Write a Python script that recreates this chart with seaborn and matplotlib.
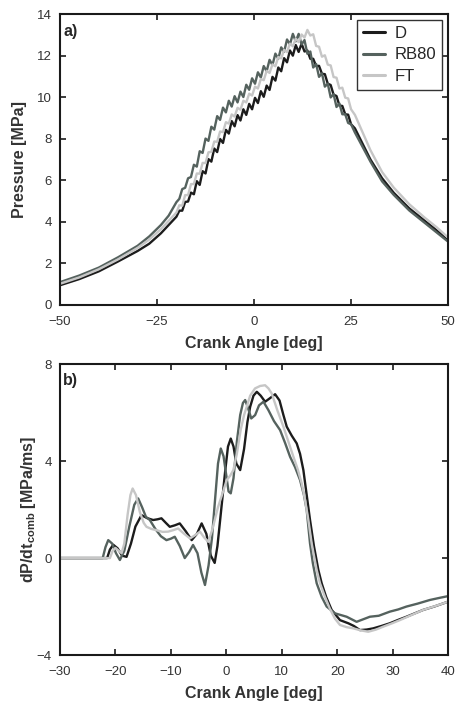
import numpy as np
import pandas as pd
import matplotlib
matplotlib.use('Agg')
import matplotlib.pyplot as plt
import seaborn as sns

# ---- panel a) cylinder pressure vs crank angle ----
angle_p = [-50, -45, -40, -35, -30, -27, -24, -22,
           -20, -19.25, -18.5, -17.75, -17, -16.25, -15.5, -14.75, -14, -13.25, -12.5, -11.75, -11, -10.25,
           -9.5, -8.75, -8, -7.25, -6.5, -5.75, -5, -4.25, -3.5, -2.75, -2, -1.25, -0.5, 0.25, 1, 1.75,
           2.5, 3.25, 4, 4.75, 5.5, 6.25, 7, 7.75, 8.5, 9.25, 10, 10.75, 11.5, 12.25, 13, 13.75, 14.5, 15.25,
           16, 16.75, 17.5, 18.25, 19, 19.75, 20.5, 21.25, 22, 22.75, 23.5, 24.25, 25,
           26, 28, 30, 33, 36, 40, 44, 47, 50]

p_D = [0.95, 1.25, 1.62, 2.1, 2.6, 2.95, 3.45, 3.85,
       4.25, 4.54, 4.54, 4.96, 4.98, 5.41, 5.33, 5.96, 5.78, 6.44, 6.33, 7.02, 6.9, 7.53,
       7.36, 7.99, 7.8, 8.43, 8.25, 8.85, 8.6, 9.14, 8.88, 9.42, 9.15, 9.68, 9.42, 9.97, 9.72, 10.29,
       10.02, 10.56, 10.35, 10.98, 10.8, 11.43, 11.25, 11.88, 11.68, 12.25, 12.0, 12.51, 12.18, 12.58, 12.2, 12.25, 11.85, 11.85,
       11.5, 11.51, 11.13, 11.11, 10.65, 10.59, 10.12, 10.06, 9.6, 9.58, 9.18, 9.16, 8.7,
       8.5, 7.75, 7.0, 6.1, 5.4, 4.65, 4.05, 3.6, 3.1]

p_RB80 = [1.1, 1.42, 1.8, 2.3, 2.85, 3.3, 3.85, 4.3,
          4.95, 5.11, 5.58, 5.64, 6.1, 6.16, 6.75, 6.66, 7.4, 7.32, 8.01, 7.9, 8.58, 8.44,
          9.09, 8.91, 9.5, 9.27, 9.83, 9.55, 10.05, 9.75, 10.27, 10.01, 10.6, 10.36, 10.91, 10.65, 11.2, 10.95,
          11.5, 11.25, 11.8, 11.55, 12.1, 11.85, 12.4, 12.19, 12.78, 12.54, 13.05, 12.69, 13.05, 12.54, 12.75, 12.09, 12.2, 11.43,
          11.6, 10.98, 11.15, 10.51, 10.65, 9.99, 10.15, 9.53, 9.7, 9.18, 9.18, 8.76, 8.7,
          8.3, 7.6, 6.9, 5.95, 5.3, 4.55, 3.95, 3.5, 3.05]

p_FT = [1.02, 1.33, 1.72, 2.2, 2.75, 3.15, 3.65, 4.05,
        4.45, 4.8, 4.78, 5.29, 5.29, 5.82, 5.82, 6.33, 6.32, 6.84, 6.83, 7.35, 7.37, 7.87,
        7.85, 8.35, 8.32, 8.8, 8.73, 9.17, 9.07, 9.49, 9.4, 9.83, 9.75, 10.17, 10.08, 10.51, 10.42, 10.88,
        10.82, 11.27, 11.17, 11.58, 11.49, 11.94, 11.87, 12.28, 12.17, 12.58, 12.45, 12.82, 12.65, 13.02, 12.87, 13.24, 12.97, 13.03,
        12.47, 12.43, 11.95, 12.02, 11.57, 11.53, 10.97, 10.94, 10.42, 10.46, 9.98, 9.94, 9.42,
        9.15, 8.3, 7.45, 6.4, 5.65, 4.85, 4.2, 3.75, 3.25]

# ---- panel b) dP/dt_comb vs crank angle ----
angle_D = [-30, -21.5, -21.0, -20.4, -19.6, -18.8, -18.0, -17.2, -16.4, -15.3, -14.3, -13.2, -12.4, -11.7, -10.9,
           -10.2, -9.3, -8.4, -7.3, -6.25, -5.3, -4.45, -3.6, -2.8, -2.1, -1.6, -1.1, -0.2, 0.3, 0.8, 1.3, 1.8,
           2.5, 3.2, 3.8, 4.3, 4.9, 5.5, 6.2, 7.0, 7.9, 8.8, 9.6, 10.3, 10.9, 11.8, 12.7, 13.3, 13.9, 14.5, 15.1,
           15.8, 16.6, 17.2, 18.0, 19.0, 20.5, 22.0, 23.0, 24.1, 25.3, 26.5, 28.0, 29.5, 31.0, 32.5, 34.0, 35.5,
           37.5, 40]
dp_D = [0, 0, 0.35, 0.55, 0.4, 0.1, 0.05, 0.6, 1.3, 1.77, 1.65, 1.57, 1.6, 1.64, 1.45,
        1.29, 1.35, 1.43, 1.1, 0.74, 1.0, 1.43, 1.0, 0.1, -0.2, 0.5, 1.6, 3.6, 4.6, 4.93, 4.6, 3.9,
        3.63, 4.5, 5.6, 6.24, 6.7, 6.86, 6.7, 6.45, 6.6, 6.76, 6.5, 5.9, 5.42, 5.05, 4.73, 4.3, 3.63, 2.6, 1.57,
        0.5, -0.49, -1.04, -1.6, -2.14, -2.56, -2.69, -2.8, -2.97, -2.95, -2.9, -2.8, -2.69, -2.55, -2.42, -2.28, -2.14,
        -2.0, -1.8]

angle_RB80 = [-30, -22.3, -21.8, -21.3, -20.6, -19.9, -19.2, -18.4, -17.5, -16.6, -15.9, -15.2, -14.5, -13.8, -12.8,
              -11.8, -10.8, -10.0, -9.3, -8.4, -7.5, -6.7, -6.0, -5.2, -4.5, -3.85, -3.2, -2.6, -2.0, -1.5, -1.0,
              -0.5, 0.0, 0.4, 0.8, 1.3, 1.9, 2.5, 3.0, 3.4, 3.9, 4.5, 5.2, 5.9, 6.7, 7.6, 8.6, 9.7, 10.6, 11.5, 12.4,
              13.3, 14.0, 14.5, 15.1, 15.6, 16.3, 17.2, 18.1, 19.6, 21.7, 23.5, 25.9, 27.5, 29.5, 31.0, 32.5, 34.5,
              36.7, 38.5, 40]
dp_RB80 = [0, 0, 0.45, 0.74, 0.6, 0.2, -0.08, 0.3, 1.3, 2.2, 2.46, 2.1, 1.7, 1.57, 1.2,
           0.9, 0.74, 0.8, 0.88, 0.5, 0.0, 0.25, 0.54, 0.2, -0.6, -1.11, -0.3, 0.8, 2.5, 3.9, 4.52,
           4.2, 3.4, 2.75, 2.67, 3.3, 4.8, 5.9, 6.4, 6.52, 6.2, 5.76, 5.9, 6.3, 6.45, 6.1, 5.65, 5.28, 4.75, 4.18, 3.75,
           3.22, 2.6, 1.98, 0.6, -0.2, -1.04, -1.6, -2.0, -2.28, -2.42, -2.63, -2.42, -2.38, -2.21, -2.12, -2.0, -1.88,
           -1.73, -1.64, -1.57]

angle_FT = [-30, -21.0, -20.5, -20.0, -19.4, -18.9, -18.4, -17.8, -17.3, -16.9, -16.3, -15.6, -14.9, -14.4, -13.5,
            -12.6, -11.5, -10.5, -9.6, -8.7, -7.6, -6.55, -5.6, -4.75, -4.0, -3.25, -2.5, -1.5, -0.5, 0.07, 0.7,
            1.27, 1.9, 2.6, 3.2, 3.68, 4.3, 5.18, 6.1, 6.99, 7.6, 8.19, 9.2, 10.3, 11.2, 12.1, 12.9, 13.6, 14.2,
            14.8, 15.4, 16.3, 16.9, 17.8, 18.7, 19.6, 20.5, 21.7, 22.9, 24.2, 25.6, 27.0, 28.3, 29.8, 31.3, 33.4,
            35.5, 37.7, 40]
dp_FT = [0, 0, 0.3, 0.42, 0.3, 0.2, 0.6, 1.8, 2.6, 2.87, 2.6, 1.9, 1.45, 1.29, 1.2,
         1.15, 1.08, 1.09, 1.15, 1.22, 1.0, 0.81, 0.95, 1.09, 0.85, 0.67, 1.2, 2.1, 2.8, 3.22, 3.4,
         3.63, 4.3, 5.3, 5.9, 6.24, 6.7, 7.0, 7.1, 7.13, 7.0, 6.79, 6.1, 5.42, 4.8, 4.18, 3.65, 3.08, 2.4,
         1.57, 0.6, -0.49, -1.04, -1.6, -2.1, -2.5, -2.76, -2.85, -2.9, -2.98, -3.04, -2.95, -2.83, -2.7, -2.56, -2.35,
         -2.14, -1.98, -1.8]

fuels = ['D', 'RB80', 'FT']
colors = {'D': '#1c1c1c', 'RB80': '#55625e', 'FT': '#c6c6c6'}

df_p = pd.concat([
    pd.DataFrame({'angle': angle_p, 'value': p_D, 'fuel': 'D'}),
    pd.DataFrame({'angle': angle_p, 'value': p_RB80, 'fuel': 'RB80'}),
    pd.DataFrame({'angle': angle_p, 'value': p_FT, 'fuel': 'FT'}),
], ignore_index=True)

df_dp = pd.concat([
    pd.DataFrame({'angle': angle_D, 'value': dp_D, 'fuel': 'D'}),
    pd.DataFrame({'angle': angle_RB80, 'value': dp_RB80, 'fuel': 'RB80'}),
    pd.DataFrame({'angle': angle_FT, 'value': dp_FT, 'fuel': 'FT'}),
], ignore_index=True)

sns.set_style('ticks')
plt.rcParams['font.family'] = ['Liberation Sans', 'DejaVu Sans']
plt.rcParams['mathtext.fontset'] = 'custom'
plt.rcParams['mathtext.rm'] = 'Liberation Sans'
plt.rcParams['mathtext.bf'] = 'Liberation Sans:bold'
plt.rcParams['xtick.direction'] = 'in'
plt.rcParams['ytick.direction'] = 'in'
plt.rcParams['xtick.top'] = True
plt.rcParams['ytick.right'] = True

fig = plt.figure(figsize=(4.56, 7.06), dpi=100)
ax1 = fig.add_axes([0.1316, 0.568, 0.851, 0.412])
ax2 = fig.add_axes([0.1316, 0.0722, 0.851, 0.412])

sns.lineplot(data=df_p, x='angle', y='value', hue='fuel', hue_order=fuels, palette=colors,
             estimator=None, sort=False, linewidth=1.7, ax=ax1)
sns.lineplot(data=df_dp, x='angle', y='value', hue='fuel', hue_order=fuels, palette=colors,
             estimator=None, sort=False, linewidth=1.7, ax=ax2, legend=False)

for ax in (ax1, ax2):
    for s in ax.spines.values():
        s.set_linewidth(1.5)
        s.set_color('#1a1a1a')
    ax.tick_params(length=4, width=1.2, labelsize=9.5, colors='#1a1a1a', labelcolor='#333333')
    ax.tick_params(axis='x', pad=8)
    ax.tick_params(axis='y', pad=6)
    ax.set_xlabel('Crank Angle [deg]', fontsize=11.5, fontweight='bold', color='#333333', labelpad=6)

ax1.set_xlim(-50, 50)
ax1.set_ylim(0, 14)
ax1.set_xticks([-50, -25, 0, 25, 50])
ax1.set_yticks(range(0, 15, 2))
ax1.set_ylabel('Pressure [MPa]', fontsize=11.5, fontweight='bold', color='#333333')
ax1.yaxis.set_label_coords(-0.084, 0.5)
ax1.text(0.008, 0.965, 'a)', transform=ax1.transAxes, fontsize=11.5, fontweight='bold', va='top', ha='left')

leg = ax1.legend(loc='upper right', fontsize=12, frameon=True, fancybox=False, framealpha=1,
                 edgecolor='#333333', handlelength=1.3, handletextpad=0.6, labelspacing=0.4,
                 borderpad=0.35, borderaxespad=0.35)
leg.get_frame().set_linewidth(1.0)
for line in leg.get_lines():
    line.set_linewidth(2.2)

ax2.set_xlim(-30, 40)
ax2.set_ylim(-4, 8)
ax2.set_xticks(range(-30, 41, 10))
ax2.set_yticks([-4, 0, 4, 8])
ax2.set_ylabel(r'dP/dt$_{\mathbf{comb}}$ [MPa/ms]', fontsize=11.5, fontweight='bold', color='#333333')
ax2.yaxis.set_label_coords(-0.057, 0.5)
ax2.text(0.008, 0.97, 'b)', transform=ax2.transAxes, fontsize=11.5, fontweight='bold', va='top', ha='left')

fig.savefig('out.png', dpi=100)
